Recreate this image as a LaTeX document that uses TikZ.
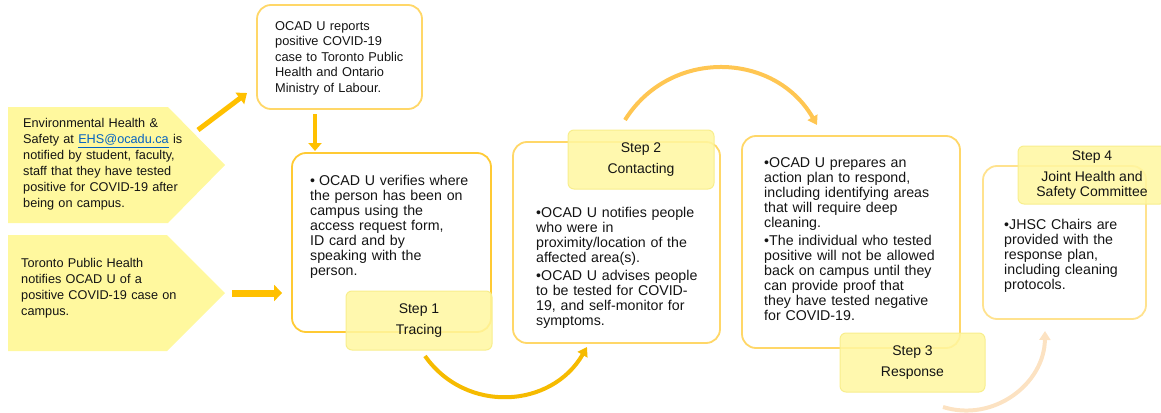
\documentclass[tikz,border=0pt]{standalone}
\usepackage{fontspec}
\setmainfont{Liberation Sans}
\usetikzlibrary{arrows.meta}
\definecolor{gold}{RGB}{255,192,0}
\definecolor{arcA}{RGB}{246,187,0}
\definecolor{arcB}{RGB}{255,198,82}
\definecolor{arcC}{RGB}{252,226,194}
\definecolor{boxline}{RGB}{255,215,104}
\definecolor{boxlineA}{RGB}{255,202,52}
\definecolor{boxlineD}{RGB}{255,226,142}
\definecolor{pentfill}{RGB}{255,248,158}
\definecolor{labfill}{RGB}{255,247,160}
\definecolor{labline}{RGB}{248,238,140}
\definecolor{linkblue}{RGB}{5,99,193}
\definecolor{ink}{RGB}{20,20,20}
\newcommand{\bp}[2][5pt]{\hangindent=#1\hangafter=1\noindent\makebox[#1][l]{•}#2\par}
\begin{document}
\begin{tikzpicture}[x=1pt,y=1pt,
  pent/.style={fill=pentfill},
  roundbox/.style={draw=boxline,line width=1.8pt,rounded corners=14pt,inner sep=0pt},
  txt/.style={anchor=north west,inner sep=0pt,align=left,text=ink},
  pentxt/.style={txt,font={\fontsize{12.7}{16}\selectfont},text width=200pt},
  boxtxt/.style={txt,font={\fontsize{14.2}{15}\selectfont}},
  lab/.style={fill=labfill,fill opacity=0.85,text opacity=1,draw=labline,line width=1pt,
     rounded corners=6pt,align=center,text=ink,font={\fontsize{14}{15}\selectfont},inner sep=0pt},
  garrow/.style={draw=gold,line width=5pt,-{Triangle[width=14pt,length=9pt]}},
  harrow/.style={draw=gold,line width=7pt,-{Triangle[width=16pt,length=8pt]}},
  varrow/.style={draw=gold,line width=4.5pt,-{Triangle[width=13pt,length=8pt]}},
  arcarrow/.style={line width=4pt,-{Triangle[width=11pt,length=9pt]}}
]
\useasboundingbox (0,0) rectangle (1161,-412);
\clip (0,0) rectangle (1161,-412);

% input pentagons
\fill[pent] (8,-107) -- (168,-107) -- (225,-165) -- (168,-223) -- (8,-223) -- cycle;
\fill[pent] (8,-235) -- (167,-235) -- (225,-293) -- (167,-351) -- (8,-351) -- cycle;
\coordinate (p1tip) at (225,-165);
\coordinate (p2tip) at (225,-293);
\node[pentxt] (p1) at (23,-118.2) {Environmental Health \&\\Safety at \textcolor{linkblue}{\underline{EHS@ocadu.ca}} is\\notified by student, faculty,\\staff that they have tested\\positive for COVID-19 after\\being on campus.};
\node[pentxt] (p2) at (21,-258.2) {Toronto Public Health\\notifies OCAD U of a\\positive COVID-19 case on\\campus.};

% boxes
\node[roundbox,minimum width=165pt,minimum height=104pt] (T) at (339.5,-57) {};
\node[roundbox,draw=boxlineA,minimum width=199pt,minimum height=179pt] (B1) at (391.5,-242.5) {};
\node[roundbox,minimum width=207pt,minimum height=201pt] (B2) at (616.5,-242.5) {};
\node[roundbox,minimum width=218pt,minimum height=212pt] (B3) at (851,-242) {};
\node[roundbox,draw=boxlineD,minimum width=163pt,minimum height=153pt] (B4) at (1064.5,-242.5) {};

% box texts
\node[txt,font={\fontsize{12.8}{15.5}\selectfont},text width=160pt] (Tt) at (275,-21.2) {OCAD U reports\\positive COVID-19\\case to Toronto Public\\Health and Ontario\\Ministry of Labour.};
\node[boxtxt,text width=175pt] (B1t) at (310,-174.6) {\bp[9pt]{OCAD U verifies where\\the person has been on\\campus using the\\access request form,\\ID card and by\\speaking with the\\person.}};
\node[boxtxt,text width=185pt] (B2t) at (536,-206.6) {\bp{OCAD U notifies people\\who were in\\proximity/location of the\\affected area(s).}\vspace{3pt}\bp{OCAD U advises people\\to be tested for COVID-\\19, and self-monitor for\\symptoms.}};
\node[boxtxt,text width=190pt] (B3t) at (764,-157.6) {\bp{OCAD U prepares an\\action plan to respond,\\including identifying areas\\that will require deep\\cleaning.}\vspace{3pt}\bp{The individual who tested\\positive will not be allowed\\back on campus until they\\can provide proof that\\they have tested negative\\for COVID-19.}};
\node[boxtxt,text width=140pt] (B4t) at (1004,-218.6) {\bp{JHSC Chairs are\\provided with the\\response plan,\\including cleaning\\protocols.}};

% step labels
\node[lab,minimum width=146pt,minimum height=59pt] (S1) at (419,-320.5) {Step 1\\[6pt]Tracing};
\node[lab,minimum width=146pt,minimum height=59pt] (S2) at (641,-159.5) {Step 2\\[6pt]Contacting};
\node[lab,minimum width=145pt,minimum height=59pt] (S3) at (912.5,-362.5) {Step 3\\[6pt]Response};
\node[lab,minimum width=148pt,minimum height=58pt] (S4) at (1092,-175) {Step 4\\[6pt]Joint Health and\\Safety Committee};

% straight arrows
\coordinate (d1s) at (198,-130);
\coordinate (d1e) at (247,-93);
\draw[garrow] (d1s) -- (d1e);
\draw[harrow] ([xshift=7pt]p2tip) -- ([xshift=-9pt]B1.west |- p2tip);
\coordinate (dn1) at (315,-114);
\coordinate (dn2) at (315,-151);
\draw[varrow] (dn1) -- (dn2);

% curved arrows
\coordinate (a1s) at (425,-356);
\coordinate (a1e) at (587,-347);
\draw[arcarrow,draw=arcA] (a1s) .. controls (466,-414) and (551.5,-408.5) .. (a1e);
\coordinate (a2s) at (625,-120);
\coordinate (a2e) at (817,-125);
\draw[arcarrow,draw=arcB] (a2s) .. controls (670,-48) and (774.5,-51.4) .. (a2e);
\coordinate (a3s) at (943,-407);
\coordinate (a3e) at (1045,-331);
\draw[arcarrow,draw=arcC] (a3s) .. controls (993.5,-422.7) and (1044.4,-383.9) .. (a3e);
\end{tikzpicture}
\end{document}
